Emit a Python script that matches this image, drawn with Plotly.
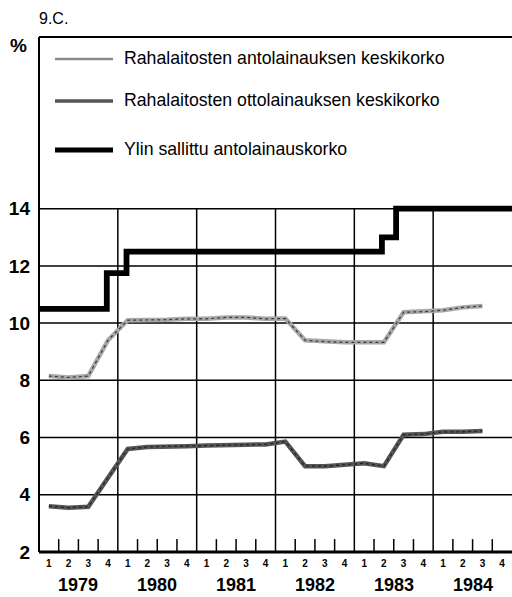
import plotly.graph_objects as go

# ---------------- data ----------------
years = [1979, 1980, 1981, 1982, 1983, 1984]
quarter_labels = ["1", "2", "3", "4"]
y_ticks = [2, 4, 6, 8, 10, 12, 14]

# Quarterly averages (1979Q1 .. 1984Q3)
lending_rate = [8.15, 8.1, 8.15, 9.4,
                10.1, 10.1, 10.12, 10.15,
                10.15, 10.2, 10.2, 10.15,
                10.16, 9.4, 9.35, 9.33,
                9.33, 9.33, 10.38, 10.4,
                10.45, 10.55, 10.6]
deposit_rate = [3.6, 3.55, 3.58, 4.6,
                5.6, 5.67, 5.7, 5.7,
                5.72, 5.75, 5.75, 5.76,
                5.86, 5.0, 5.0, 5.05,
                5.1, 5.0, 6.1, 6.12,
                6.2, 6.2, 6.23]
# Maximum permitted lending rate (step changes, decimal years)
max_rate_dates = [1979.0, 1979.86, 1980.11, 1983.35, 1983.53, 1985.0]
max_rate_values = [10.5, 11.75, 12.5, 13.0, 14.0, 14.0]

names = ["Rahalaitosten antolainauksen keskikorko",
         "Rahalaitosten ottolainauksen keskikorko",
         "Ylin sallittu antolainauskorko"]

# ---------------- figure ----------------
quarter_mid = [y + (q + 0.5) / 4 for y in years for q in range(4)]
q_text = [quarter_labels[q] for y in years for q in range(4)]
x_lend = quarter_mid[:len(lending_rate)]
x_dep = quarter_mid[:len(deposit_rate)]

FONT = "Liberation Sans, Arial, sans-serif"
W, H = 512, 597
ML, MR, MT, MB = 39, 0, 37, 45
PW, PH = W - ML - MR, H - MT - MB

def px(x):
    return (x - ML) / PW

def py(y):
    return (H - MB - y) / PH

fig = go.Figure()
# lending rate: light grey textured
fig.add_trace(go.Scatter(x=x_lend, y=lending_rate, mode="lines",
                         line=dict(color="#a8a8a8", width=4.5), showlegend=False))
fig.add_trace(go.Scatter(x=x_lend, y=lending_rate, mode="lines",
                         line=dict(color="#3a3a3a", width=1.2, dash="dot"), showlegend=False))
# deposit rate: darker grey textured
fig.add_trace(go.Scatter(x=x_dep, y=deposit_rate, mode="lines",
                         line=dict(color="#555555", width=4.5), showlegend=False))
fig.add_trace(go.Scatter(x=x_dep, y=deposit_rate, mode="lines",
                         line=dict(color="#222222", width=1.2, dash="dot"), showlegend=False))
# max rate: thick black step line
fig.add_trace(go.Scatter(x=max_rate_dates, y=max_rate_values, mode="lines",
                         line=dict(color="#000000", width=5.8, shape="hv"), showlegend=False))

shapes = []
# horizontal gridlines (up to 14)
for v in y_ticks[1:]:
    shapes.append(dict(type="line", xref="x", yref="y", x0=years[0], x1=years[-1] + 1,
                       y0=v, y1=v, line=dict(color="black", width=1.5), layer="below"))
# vertical year lines
for yr in years[1:]:
    shapes.append(dict(type="line", xref="x", yref="y", x0=yr, x1=yr,
                       y0=y_ticks[0], y1=y_ticks[-1], line=dict(color="black", width=1.5),
                       layer="below"))
# quarter tick marks
for yr in years:
    for q in (1, 2, 3):
        shapes.append(dict(type="line", xref="x", yref="y", x0=yr + q / 4, x1=yr + q / 4,
                           y0=2, y1=2.45, line=dict(color="black", width=1.5)))
# frame
shapes.append(dict(type="line", xref="paper", yref="paper", x0=0, x1=0, y0=0, y1=1,
                   line=dict(color="black", width=2)))
shapes.append(dict(type="line", xref="paper", yref="paper", x0=0, x1=1, y0=1, y1=1,
                   line=dict(color="black", width=2)))
shapes.append(dict(type="line", xref="paper", yref="paper", x0=0, x1=1, y0=0, y1=0,
                   line=dict(color="black", width=3)))

# manual legend
leg_rows = [59, 101, 150]
leg_styles = [dict(color="#8a8a8a", width=2.5), dict(color="#555555", width=3.5),
              dict(color="#000000", width=5)]
annotations = []
for yrow, st, nm in zip(leg_rows, leg_styles, names):
    shapes.append(dict(type="line", xref="paper", yref="paper", x0=px(55), x1=px(113),
                       y0=py(yrow), y1=py(yrow), line=st))
    annotations.append(dict(xref="paper", yref="paper", x=px(122), y=py(yrow - 1),
                            xanchor="left", yanchor="middle", showarrow=False, text=nm,
                            font=dict(family=FONT, size=17.7, color="black")))

# year labels
for yr in years:
    annotations.append(dict(xref="x", yref="paper", x=yr + 0.5, y=py(585), xanchor="center",
                            yanchor="middle", showarrow=False, text=str(yr),
                            font=dict(family=FONT, size=18, color="black", weight=700)))
# title and unit
annotations.append(dict(xref="paper", yref="paper", x=px(37), y=py(18), xanchor="left",
                        yanchor="middle", showarrow=False, text="9.C.",
                        font=dict(family=FONT, size=16, color="black")))
annotations.append(dict(xref="paper", yref="paper", x=px(18), y=py(45), xanchor="center",
                        yanchor="middle", showarrow=False, text="%",
                        font=dict(family=FONT, size=19, color="black", weight=700)))

fig.update_layout(
    width=W, height=H,
    margin=dict(l=ML, r=MR, t=MT, b=MB, pad=0),
    paper_bgcolor="white", plot_bgcolor="white",
    showlegend=False,
    shapes=shapes, annotations=annotations,
    xaxis=dict(range=[years[0], years[-1] + 1], showgrid=False, zeroline=False,
               tickmode="array", tickvals=quarter_mid, ticktext=q_text, ticks="",
               tickfont=dict(family=FONT, size=10, color="black", weight=700),
               ticklabelstandoff=4, fixedrange=True),
    yaxis=dict(range=[2, 20], showgrid=False, zeroline=False,
               tickmode="array", tickvals=y_ticks, ticktext=[str(v) for v in y_ticks],
               ticks="", tickfont=dict(family=FONT, size=19, color="black", weight=700),
               ticklabelstandoff=8, fixedrange=True),
)

fig.write_html("out.html", config={"displayModeBar": False},
               post_script="document.body.style.margin='0';document.body.style.overflow='hidden';")
